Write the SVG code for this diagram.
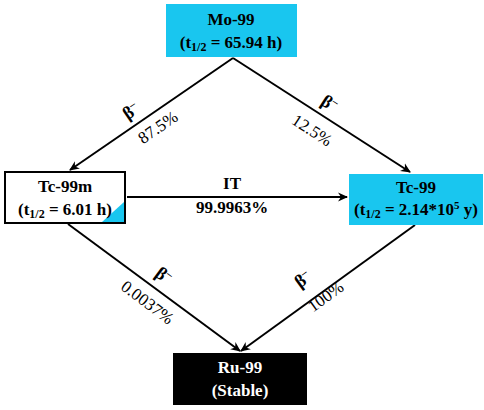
<svg xmlns="http://www.w3.org/2000/svg" width="484" height="410" viewBox="0 0 484 410">
<defs>
<marker id="ah" viewBox="0 0 10 10" refX="9" refY="5" markerWidth="10" markerHeight="10" markerUnits="userSpaceOnUse" orient="auto">
<path d="M0,0.5 L10,5 L0,9.5 L3,5 Z" fill="#000"/>
</marker>
<style>
.n{font-family:"Liberation Serif",serif;font-weight:bold;font-size:17px;text-anchor:middle}
.l{font-family:"Liberation Serif",serif;font-size:17px;text-anchor:middle}
.b{font-family:"Liberation Serif",serif;font-size:18px;font-weight:bold;text-anchor:middle}
.c{stroke:#000;stroke-width:2;fill:none;marker-end:url(#ah)}
</style>
</defs>
<g id="connectors">
<line class="c" x1="233" y1="58" x2="70" y2="170"/>
<line class="c" x1="233" y1="58" x2="410" y2="172"/>
<line class="c" x1="127" y1="197" x2="347" y2="197"/>
<line class="c" x1="68" y1="224" x2="240" y2="351"/>
<line class="c" x1="415" y1="225" x2="241" y2="351"/>
<text class="b" transform="translate(134,116) rotate(-34.5)">β<tspan font-size="11" dy="-7">–</tspan></text>
<text class="l" transform="translate(161,132) rotate(-34.5)">87.5%</text>
<text class="b" transform="translate(326,108) rotate(33)">β<tspan font-size="11" dy="-7">–</tspan></text>
<text class="l" transform="translate(309,135) rotate(33)">12.5%</text>
<text class="n" x="232" y="189">IT</text>
<text class="n" x="232" y="213">99.9963%</text>
<text class="b" transform="translate(160,280) rotate(37)">β<tspan font-size="11" dy="-7">–</tspan></text>
<text class="l" transform="translate(144,307) rotate(37)">0.0037%</text>
<text class="b" transform="translate(306,284) rotate(-36)">β<tspan font-size="11" dy="-7">–</tspan></text>
<text class="l" transform="translate(329,301) rotate(-36)">100%</text>
</g>
<g id="mo99">
<rect x="166" y="4" width="131" height="53" fill="#19c6ef"/>
<text class="n" x="231" y="25">Mo-99</text>
<text class="n" x="231" y="48">(t<tspan font-size="12" dy="3">1/2</tspan><tspan dy="-3"> = 65.94 h)</tspan></text>
</g>
<g id="tc99m">
<rect x="5" y="172" width="120" height="51" fill="#fff" stroke="#000" stroke-width="2"/>
<path d="M102,222 L124,222 L124,202 Z" fill="#19c6ef"/>
<text class="n" x="65" y="192">Tc-99m</text>
<text class="n" x="65" y="215">(t<tspan font-size="12" dy="3">1/2</tspan><tspan dy="-3"> = 6.01 h)</tspan></text>
</g>
<g id="tc99">
<rect x="349" y="174" width="134" height="51" fill="#19c6ef"/>
<text class="n" x="416" y="193">Tc-99</text>
<text class="n" x="416" y="215">(t<tspan font-size="12" dy="3">1/2</tspan><tspan dy="-3"> = 2.14*10</tspan><tspan font-size="11" dy="-6">5</tspan><tspan dy="6"> y)</tspan></text>
</g>
<g id="ru99">
<rect x="173" y="353" width="134" height="52" fill="#000"/>
<text class="n" x="240" y="373" fill="#fff">Ru-99</text>
<text class="n" x="240" y="396" fill="#fff">(Stable)</text>
</g>
</svg>
